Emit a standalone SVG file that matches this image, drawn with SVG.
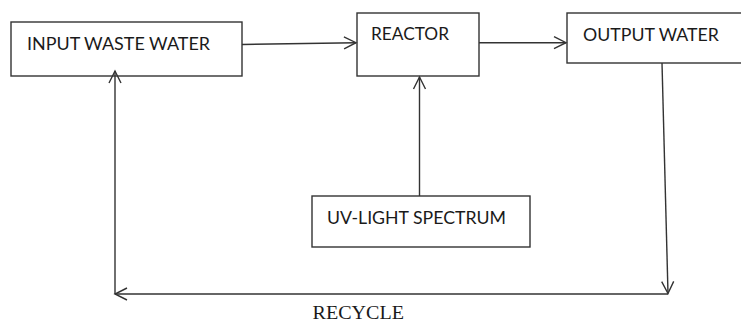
<svg xmlns="http://www.w3.org/2000/svg" width="741" height="323" viewBox="0 0 741 323">
<style>
.box{fill:#fff;stroke:#333;stroke-width:1.4}
.lbl{font-family:Lato,"Open Sans",sans-serif;font-size:17px;fill:#1a1a1a}
.ser{font-family:"Liberation Serif","Times New Roman",serif;font-size:18px;fill:#1a1a1a}
.ln{fill:none;stroke:#333;stroke-width:1.4}
</style>
<defs>
<marker id="ah" markerUnits="userSpaceOnUse" markerWidth="16" markerHeight="16" viewBox="-14 -8 16 16" refX="0" refY="0" orient="auto">
<path d="M-12,-6 L0,0 L-12,6" fill="none" stroke="#333" stroke-width="1.4"/>
</marker>
</defs>
<rect width="741" height="323" fill="#fff"/>
<g id="input">
<rect class="box" x="11" y="22" width="231" height="54"/>
<text class="lbl" x="27" y="50" textLength="183" lengthAdjust="spacingAndGlyphs">INPUT WASTE WATER</text>
</g>
<g id="reactor">
<rect class="box" x="357" y="13" width="122" height="63"/>
<text class="lbl" x="371" y="40" textLength="78" lengthAdjust="spacingAndGlyphs">REACTOR</text>
</g>
<g id="output">
<rect class="box" x="567" y="13" width="180" height="50"/>
<text class="lbl" x="583" y="40.5" textLength="136" lengthAdjust="spacingAndGlyphs">OUTPUT WATER</text>
</g>
<g id="uv">
<rect class="box" x="312" y="196" width="218" height="51"/>
<text class="lbl" x="327" y="224" textLength="179" lengthAdjust="spacingAndGlyphs">UV-LIGHT SPECTRUM</text>
</g>
<g id="connectors">
<line class="ln" x1="242" y1="44.5" x2="356" y2="42.7" marker-end="url(#ah)"/>
<line class="ln" x1="479" y1="42.7" x2="566" y2="42.7" marker-end="url(#ah)"/>
<line class="ln" x1="662" y1="63" x2="668" y2="293.5" marker-end="url(#ah)"/>
<line class="ln" x1="668" y1="294" x2="115" y2="294" marker-end="url(#ah)"/>
<line class="ln" x1="115" y1="294" x2="115" y2="71" marker-end="url(#ah)"/>
<line class="ln" x1="419.5" y1="196" x2="419.5" y2="77" marker-end="url(#ah)"/>
</g>
<text class="ser" x="312.5" y="319" textLength="91.5" lengthAdjust="spacingAndGlyphs">RECYCLE</text>
</svg>
